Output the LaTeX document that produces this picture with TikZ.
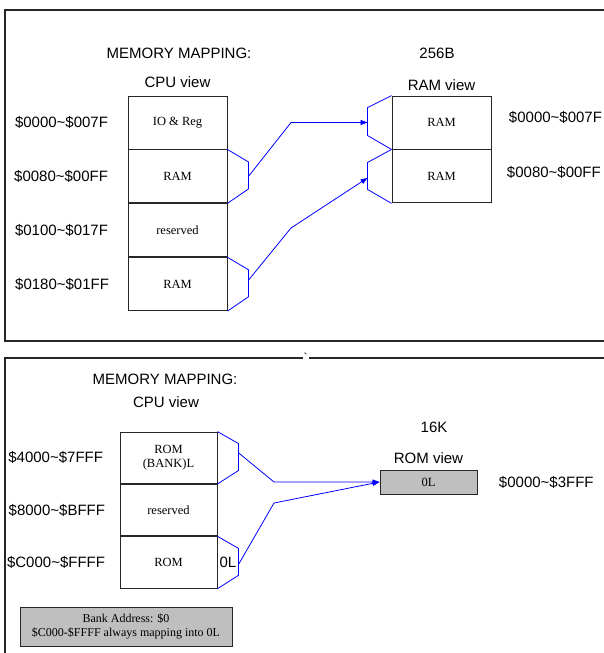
\documentclass[tikz,border=0pt]{standalone}
\usepackage{fontspec}
\setmainfont{Liberation Serif}
\setsansfont{Liberation Sans}
\usetikzlibrary{positioning,arrows.meta}
\def\addrrange#1#2{\$#1\textasciitilde\$#2}

\tikzset{
	frame/.style={draw=black!85, line width=1.5pt},
	cell/.style={draw=black!85, line width=0.9pt, minimum width=99pt, minimum height=53pt, inner sep=0pt, align=center, font=\fontsize{12.5}{14}\selectfont},
	title/.style={font=\sffamily\fontsize{15}{16}\selectfont},
	addr/.style={font=\sffamily\fontsize{15}{16}\selectfont},
	fold/.style={draw=blue, line width=0.8pt},
	link/.style={draw=blue, line width=0.8pt, -{Triangle[length=7pt,width=5pt]}},
}

\begin{document}
\begin{tikzpicture}[x=1pt,y=-1pt]
			\useasboundingbox (0,0) rectangle (603,653);
			
			%%%%% TOP: 256B RAM %%%%%
			
			\draw[frame] (615,10) -- (5,10) -- (5,341) -- (615,341);
			
			\node[title] (mapA) at (179,53) {MEMORY MAPPING:};
			\node[title] (sizeA) at (437,53) {256B};
			
			\node[cell] (cpuA) at (177.5,122.5) {IO \& Reg};
			\node[cell, below=0pt of cpuA] (cpuB) {RAM};
			\node[cell, below=0pt of cpuB] (cpuC) {reserved};
			\node[cell, below=0pt of cpuC] (cpuD) {RAM};
			\node[title, above=4pt of cpuA] (cpuviewA) {CPU view};
			
			\node[addr, left=16pt of cpuA] (adrA) {\addrrange{0000}{007F}};
			\node[addr, left=16pt of cpuB] (adrB) {\addrrange{0080}{00FF}};
			\node[addr, left=16pt of cpuC] (adrC) {\addrrange{0100}{017F}};
			\node[addr, left=15pt of cpuD] (adrD) {\addrrange{0180}{01FF}};
			
			\node[cell] (ramA) at (441.5,122.5) {RAM};
			\node[cell, below=0pt of ramA] (ramB) {RAM};
			\node[title, above=1pt of ramA] (ramview) {RAM view};
			
			\node[addr, right=14pt of ramA, yshift=5pt] (adrRamA) {\addrrange{0000}{007F}};
			\node[addr, right=12pt of ramB, yshift=4pt] (adrRamB) {\addrrange{0080}{00FF}};
			
			\draw[fold] (cpuB.north east) -- ++(21,12.5) -- ++(0,27) -- (cpuB.south east);
			\draw[fold] (cpuD.north east) -- ++(21,12.5) -- ++(0,27) -- (cpuD.south east);
			\draw[fold] (ramA.north west) -- ++(-24,12) -- ++(0,28) -- (ramA.south west);
			\draw[fold] (ramB.north west) -- ++(-24,13) -- ++(0,27) -- (ramB.south west);
			
			\coordinate (outB) at ([xshift=21pt]cpuB.east);
			\coordinate (outD) at ([xshift=21pt, yshift=4pt]cpuD.east);
			\coordinate (bendB) at (291,122.5);
			\coordinate (bendD) at (291,228);
			\coordinate (inA) at ([xshift=-24pt]ramA.west);
			\coordinate (inB) at ([xshift=-24pt, yshift=-1.5pt]ramB.west);
			
			\draw[link] (outB) -- (bendB) -- (inA);
			\draw[link] (outD) -- (bendD) -- (inB);
			
			%%%%% BOTTOM: 16K ROM %%%%%
			
			\draw[frame] (615,358) -- (5,358) -- (5,665);
			\node[fill=white, inner sep=1pt, font=\fontsize{12}{12}\selectfont] (tick) at (305.5,357) {\textasciigrave};
			
			\node[title] (mapB) at (165,379) {MEMORY MAPPING:};
			\node[title] (cpuviewB) at (166,402) {CPU view};
			\node[title] (sizeB) at (434,427) {16K};
			
			\node[cell, minimum width=97pt, minimum height=51.5pt] (romA) at (168.5,457.75) {ROM\\(BANK)L};
			\node[cell, minimum width=97pt, minimum height=51.5pt, below=0pt of romA] (romB) {reserved};
			\node[cell, minimum width=97pt, minimum height=51.5pt, below=0pt of romB] (romC) {ROM};
			
			\node[addr, left=13pt of romA] (adrRomA) {\addrrange{4000}{7FFF}};
			\node[addr, left=11pt of romB] (adrRomB) {\addrrange{8000}{BFFF}};
			\node[addr, left=11pt of romC] (adrRomC) {\addrrange{C000}{FFFF}};
			
			\node[cell, fill=black!25, minimum width=97pt, minimum height=24pt] (romview) at (428.5,482) {0L};
			\node[title, above=2pt of romview] (romviewtxt) {ROM view};
			\node[addr, right=18pt of romview] (adrRomview) {\addrrange{0000}{3FFF}};
			
			\draw[fold] (romA.north east) -- ++(21,12) -- ++(0,27) -- (romA.south east);
			\draw[fold] (romC.north east) -- ++(21,12) -- ++(0,27) -- (romC.south east);
			\node[addr, anchor=west, inner sep=1pt, xshift=1pt] (zeroL) at (romC.east) {0L};
			
			\coordinate (outA) at ([xshift=21pt, yshift=5pt]romA.east);
			\coordinate (outC) at ([xshift=21pt, yshift=-2pt]romC.east);
			\coordinate (bendA) at (274,482);
			\coordinate (bendC) at (274,503);
			
			\draw[link] (outA) -- (bendA) -- (romview.west);
			\draw[link] (outC) -- (bendC) -- (romview.west);
			
			\node[draw=black!85, line width=0.9pt, fill=black!25, minimum width=212pt, minimum height=39pt, align=center, font=\fontsize{12}{14}\selectfont] (bank) at (126,626.5) {Bank Address: \$0\\\$C000-\$FFFF always mapping into 0L};
			
\end{tikzpicture}
\end{document}
